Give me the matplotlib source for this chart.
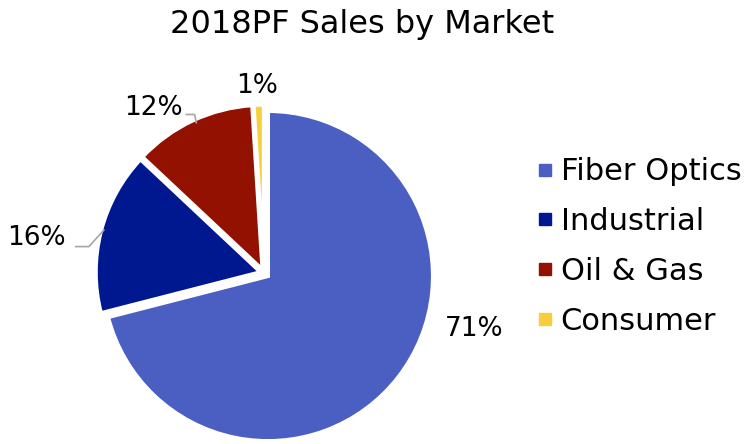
import matplotlib.pyplot as plt
import numpy as np

markets = ["Fiber Optics", "Industrial", "Oil & Gas", "Consumer"]
shares = [71, 16, 12, 1]
colors = ["#4A5FC1", "#00188F", "#931100", "#F8CE3B"]

plt.rcParams["font.family"] = ["DejaVu Sans"]

W, H = 753, 444
fig = plt.figure(figsize=(W / 100, H / 100), dpi=100)

# pie centre and radius in pixels
cx, cy, R = 264, 444 - 273, 172
span = 1.2
ax = fig.add_axes([(cx - span * R) / W, (cy - span * R) / H, 2 * span * R / W, 2 * span * R / H])
ax.set_xlim(-span, span)
ax.set_ylim(-span, span)
ax.set_aspect("equal")
ax.axis("off")

wedges, _ = ax.pie(
    shares,
    colors=colors,
    startangle=90,
    counterclock=False,
    explode=[0.03, 0.02, 0.02, 0.02],
    wedgeprops=dict(edgecolor="white", linewidth=3),
    radius=1.0,
)
for w in wedges:
    w.set_clip_on(False)

# labels (positions in pie units)
label_pos = [(1.27, -0.34), (-1.38, 0.21), (-0.67, 1.0), (-0.04, 1.13)]
for v, (x, y) in zip(shares, label_pos):
    ax.text(x, y, f"{v}%", fontsize=19, ha="center", va="center", clip_on=False)

# leader lines
ax.plot([-1.14, -1.06, -0.97], [0.16, 0.16, 0.26], color="#A6A6A6", lw=1.2, clip_on=False)
ax.plot([-0.47, -0.42, -0.41], [0.96, 0.96, 0.91], color="#A6A6A6", lw=1.2, clip_on=False)

fig.text(0.481, 0.945, "2018PF Sales by Market", fontsize=23, ha="center", va="center")

handles = [plt.Line2D([], [], marker="s", ls="", color=c, markersize=9) for c in colors]
fig.legend(
    handles, markets, loc="center left", bbox_to_anchor=(0.716, 0.445),
    frameon=False, fontsize=22, handlelength=0.4, handletextpad=0.3,
    labelspacing=0.68, borderpad=0, borderaxespad=0,
)

fig.savefig("out.png", dpi=100)
